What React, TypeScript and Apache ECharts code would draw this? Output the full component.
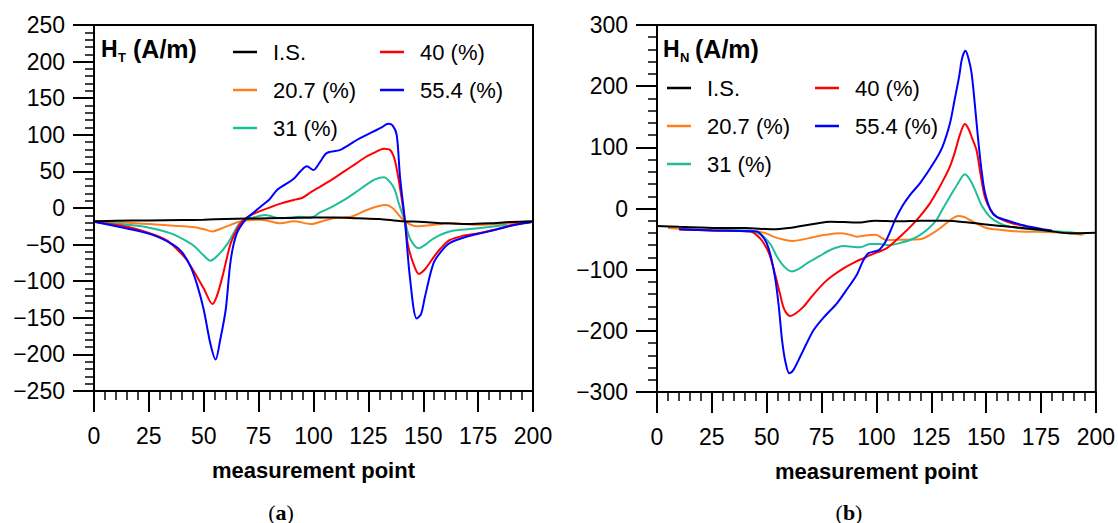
import React, { useEffect, useRef } from "react";
import * as echarts from "echarts";

// ---------- data ----------
const seriesNames = ["I.S.", "20.7 (%)", "31 (%)", "40 (%)", "55.4 (%)"];
const seriesColors = ["#000000", "#ff7f1f", "#1dbf9a", "#ff0000", "#0000ff"];
const xTicks = [0, 25, 50, 75, 100, 125, 150, 175, 200];

// (a) tangential component H_T (A/m)
const htIS = [[0,-18],[10,-17.5],[25,-17],[40,-16.5],[50,-16],[60,-15],[70,-14.5],[80,-14],[90,-13.5],[100,-13],[110,-13],[120,-14],[130,-15],[140,-18],[150,-19],[160,-21],[170,-22],[180,-21],[190,-19],[200,-18]];
const ht207 = [[0,-18.7],[15,-20],[30,-23],[45,-26],[50,-29],[54,-32],[58,-28],[61,-24.5],[67,-18],[76,-16],[85,-21],[91,-18],[99,-22],[104,-18],[109,-14],[117,-12],[124,-3],[129,2],[133,4],[136,0],[139,-10],[141.7,-18.7],[147,-25],[155,-23],[162,-21],[174,-23],[183,-22],[192,-21],[200,-19]];
const ht31 = [[0,-18.7],[12,-22],[23,-25.5],[35,-34.6],[42,-45],[46,-53],[50,-65],[53,-72],[57,-63],[61,-48],[64,-32],[67,-19],[73,-12.7],[78,-9.6],[85,-14],[94,-12],[99,-13],[103,-6],[108,1],[114,11],[119,21],[124,31.5],[128,39],[132,42],[135,35],[137,25],[139,5],[141.7,-18.7],[144,-42],[148,-55],[151,-50],[155,-41],[162,-32],[174,-28],[188,-23]];
const ht40 = [[0,-18.7],[15,-25.5],[27,-36],[33,-44],[38,-57],[42,-70],[46,-89],[50,-110],[54,-131],[56,-120],[58.5,-94],[60,-75],[62.3,-48],[65,-30],[67,-20],[70,-12],[75,-5],[79,-0.5],[85,6],[91,11],[95,14],[99,22],[103,29],[108,38],[114,50],[119,60],[124,70],[128,76],[132,81],[135,79],[137,66],[139,35],[141.7,-18.7],[143,-50],[145.5,-76],[148,-90],[151,-83],[155,-66],[158,-55],[162,-44],[168,-38],[174,-35],[182,-30],[191,-23],[200,-18.7]];
const ht554 = [[0,-18.7],[15,-28],[27,-37],[36,-50],[40,-60],[44,-80],[47,-105],[50,-139],[53,-185],[55.4,-207],[57.5,-180],[60,-139],[62.3,-71],[65,-35],[69,-16],[72,-8],[76,2],[80,12],[83.5,25],[87,32],[91,40],[94,50],[97,57],[100,52],[103,63],[106,75],[112,79],[116,86],[121,95],[127,104],[131,110],[134,115],[136,113],[137.9,100],[139.4,43],[141.7,-18.7],[143.9,-94],[147,-151],[149,-145],[150.8,-121],[154.6,-76],[158,-60],[162,-48],[170,-39],[177,-34],[185,-28],[192,-23],[200,-18.7]];

// (b) normal component H_N (A/m)
const hnIS = [[0,-28.6],[10,-30],[20,-31],[30,-32],[40,-32],[53,-34],[60,-32],[65,-29],[72,-25],[79,-21.5],[85,-22],[91,-23],[99.5,-20],[110,-21],[120,-20],[132,-20],[142,-23],[150,-26],[161,-30],[170,-33],[177.5,-36],[188,-40.6],[200,-39.5]];
const hn207 = [[5,-32],[15,-34],[30,-36],[45.6,-37.5],[50,-41],[53,-46],[58,-51],[62,-53],[66,-51],[71,-47],[77,-43],[83.5,-40.6],[88,-43],[91,-46],[95,-44],[99.5,-43],[104.6,-51.5],[112,-51],[119.8,-50.4],[125,-42],[129,-32.4],[134,-18],[137.3,-12.3],[140,-14],[142.6,-18.8],[150.2,-32],[157,-35],[165.4,-37.5],[180.5,-39],[194,-43]];
const hn31 = [[10.6,-34.5],[25,-35],[42.5,-36],[46,-40],[48.6,-46],[52,-60],[54.7,-78.8],[58,-95],[61.5,-103],[65,-98],[68.3,-89.8],[74,-78],[79,-67.8],[85,-61.3],[92.6,-63.5],[97,-58],[101,-58],[106,-60],[110,-57],[115.3,-51.5],[120,-43],[124,-32],[127.4,-18.8],[130,-2],[133.5,19.3],[137,40],[140.3,55.9],[143,45],[145.6,24.8],[148,5],[151.7,-13.4],[156,-24],[160.8,-29.8],[172.9,-35],[188,-39],[195,-41]];
const hn40 = [[10,-34],[25,-36],[42.5,-37.5],[47,-48.8],[50,-65],[51.6,-78.8],[54,-110],[56,-138.7],[58,-165],[60.7,-175.7],[63,-172],[66.8,-160.5],[71,-142],[76,-122],[80,-110],[85,-97.8],[90,-88],[94,-81.4],[98,-75],[104.6,-65],[108,-55],[112.2,-41.4],[116,-28],[120,-12],[124.4,8.4],[128,30],[131,50],[133.5,68.4],[136,95],[138,120],[140.3,138],[142,130],[143.6,115],[145.6,95.6],[147.5,55],[149.4,19.3],[152,-2],[154.7,-13.4],[160,-22],[165.4,-27],[176,-35],[180,-37]];
const hn554 = [[10,-34],[25,-36],[42,-37],[45.6,-37.5],[48,-45],[50,-56.7],[52,-80],[54,-117],[55.5,-160],[57,-215],[58.5,-250],[60.3,-269.5],[62,-265],[65.3,-242],[68,-222],[71.4,-198.6],[76,-178],[82,-155],[86,-135],[91,-108.7],[94,-85],[96.4,-73],[99.5,-70],[101.5,-67],[104,-55],[106,-40],[109,-15],[112,5],[116,25],[120,42],[126,73.9],[130,100],[133.5,139],[135.5,175],[137.7,215.5],[139,245],[140.6,258],[142,245],[143.4,221],[145,165],[146.4,112],[148,60],[149.4,27],[152,-2],[154.7,-13.4],[160,-20],[163.9,-24.3],[170,-30],[176,-34],[180,-36]];

const htData = [htIS, ht207, ht31, ht40, ht554];
const hnData = [hnIS, hn207, hn31, hn40, hn554];

const FONT = "'Liberation Sans', Arial, Helvetica, sans-serif";

function xAxisOf(gridIndex: number) {
  return {
    type: "value",
    gridIndex,
    min: 0,
    max: 200,
    interval: 25,
    name: "measurement point",
    nameLocation: "middle",
    nameGap: 68,
    nameTextStyle: { fontFamily: FONT, fontSize: 22, fontWeight: "bold", color: "#000" },
    axisLine: { show: true, onZero: false, lineStyle: { color: "#000", width: 2 } },
    axisTick: { show: true, length: 21, inside: false, lineStyle: { color: "#000", width: 2 } },
    minorTick: { show: true, splitNumber: 5, length: 9, lineStyle: { color: "#000", width: 1.5 } },
    axisLabel: { fontFamily: FONT, fontSize: 23, color: "#000", margin: 33, formatter: (v: number) => (xTicks.includes(v) ? String(v) : "") },
    splitLine: { show: false },
  };
}

function yAxisOf(gridIndex: number, lim: number, step: number) {
  return {
    type: "value",
    gridIndex,
    min: -lim,
    max: lim,
    interval: step,
    axisLine: { show: true, onZero: false, lineStyle: { color: "#000", width: 2 } },
    axisTick: { show: true, length: 21, inside: false, lineStyle: { color: "#000", width: 2 } },
    minorTick: { show: true, splitNumber: 5, length: 9, lineStyle: { color: "#000", width: 1.5 } },
    axisLabel: { fontFamily: FONT, fontSize: 23, color: "#000", margin: 29, formatter: (v: number) => (v < 0 ? "\u2212" + Math.abs(v) : String(v)) },
    splitLine: { show: false },
  };
}

function lineSeries(data: number[][], i: number, axisIndex: number) {
  return {
    type: "line",
    name: seriesNames[i],
    xAxisIndex: axisIndex,
    yAxisIndex: axisIndex,
    data,
    showSymbol: false,
    symbol: "none",
    smooth: 0.3,
    color: seriesColors[i],
    lineStyle: { color: seriesColors[i], width: 2 },
    z: i === 0 ? 10 : 2 + i,
  };
}

function legendOf(names: string[], left: number, top: number) {
  return {
    data: names,
    orient: "vertical",
    left,
    top,
    padding: 0,
    icon: "rect",
    itemWidth: 24,
    itemHeight: 2.5,
    itemGap: 16,
    selectedMode: false,
    textStyle: { fontFamily: FONT, fontSize: 22, color: "#000", padding: [0, 0, 0, 11] },
  };
}

function titleText(x: number, sub: string) {
  return [
    { type: "text", x, y: 37, style: { text: "H", fontFamily: FONT, fontSize: 23, fontWeight: "bold", fill: "#000" } },
    { type: "text", x: x + 17, y: 51, style: { text: sub, fontFamily: FONT, fontSize: 13, fontWeight: "bold", fill: "#000" } },
    { type: "text", x: x + 32, y: 36, style: { text: "(A/m)", fontFamily: FONT, fontSize: 25, fontWeight: "bold", fill: "#000" } },
  ];
}

function panelLabel(cx: number, letter: string) {
  return {
    type: "text",
    x: cx,
    y: 512,
    style: {
      text: "{p|(}{b|" + letter + "}{p|)}",
      align: "center",
      verticalAlign: "middle",
      rich: {
        p: { fontFamily: "'Liberation Serif', 'DejaVu Serif', serif", fontSize: 22, fill: "#000" },
        b: { fontFamily: "'Liberation Serif', 'DejaVu Serif', serif", fontSize: 22, fontWeight: "bold", fill: "#000" },
      },
    },
  };
}

export default function App() {
  const ref = useRef<HTMLDivElement>(null);
  useEffect(() => {
    if (!ref.current) return;
    const chart = echarts.init(ref.current, null, { renderer: "svg" });
    const option = {
      animation: false,
      backgroundColor: "#fff",
      grid: [
        { left: 94, top: 25, width: 439, height: 366, show: true, borderColor: "#000", borderWidth: 2, backgroundColor: "transparent" },
        { left: 657, top: 25, width: 439, height: 367, show: true, borderColor: "#000", borderWidth: 2, backgroundColor: "transparent" },
      ],
      xAxis: [xAxisOf(0), xAxisOf(1)],
      yAxis: [yAxisOf(0, 250, 50), yAxisOf(1, 300, 100)],
      legend: [
        legendOf(seriesNames.slice(0, 3), 233, 41),
        legendOf(seriesNames.slice(3), 380, 41),
        legendOf(seriesNames.slice(0, 3), 667, 77),
        legendOf(seriesNames.slice(3), 815, 77),
      ],
      graphic: [...titleText(101, "T"), ...titleText(663, "N"), panelLabel(281, "a"), panelLabel(849, "b")],
      series: [
        ...htData.map((d, i) => lineSeries(d, i, 0)),
        ...hnData.map((d, i) => lineSeries(d, i, 1)),
      ],
    };
    chart.setOption(option as any);
    return () => chart.dispose();
  }, []);
  return <div ref={ref} style={{ position: "fixed", left: 0, top: 0, width: 1118, height: 523, background: "#fff" }} />;
}
